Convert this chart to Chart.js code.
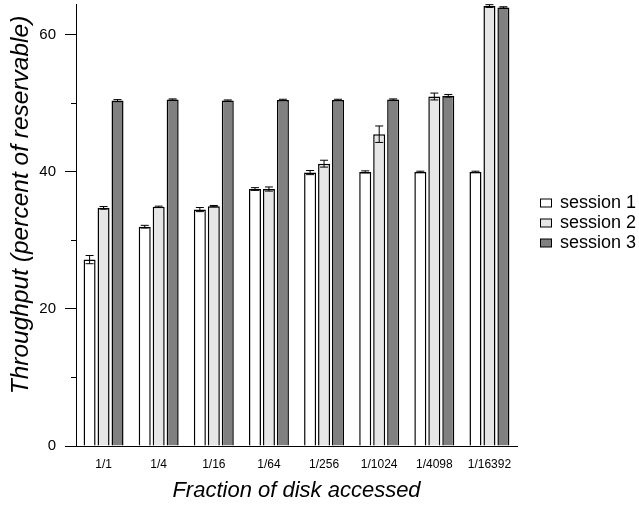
<!DOCTYPE html>
<html>
<head>
<meta charset="utf-8">
<script src="https://cdn.jsdelivr.net/npm/chart.js@4"></script>
<style>
  html, body { margin: 0; padding: 0; background: #fff; }
  #wrap { width: 639px; height: 506px; }
</style>
</head>
<body>
<div id="wrap"><canvas id="chart"></canvas></div>
<script>
const fractions = ["1/1", "1/4", "1/16", "1/64", "1/256", "1/1024", "1/4098", "1/16392"];
const session1 = [27.2, 32.0, 34.5, 37.5, 39.9, 40.0, 40.0, 40.0];
const session2 = [34.75, 34.9, 35.0, 37.5, 41.2, 45.5, 51.0, 64.2];
const session3 = [50.4, 50.55, 50.4, 50.5, 50.5, 50.55, 51.1, 64.0];
const session1Err = [0.6, 0.2, 0.3, 0.2, 0.3, 0.15, 0.1, 0.1];
const session2Err = [0.2, 0.1, 0.1, 0.3, 0.5, 1.2, 0.5, 0.2];
const session3Err = [0.15, 0.1, 0.1, 0.1, 0.1, 0.1, 0.2, 0.1];

const FONT = "'Liberation Sans', Arial, Helvetica, sans-serif";

// error bars drawn on top of each bar, through the y scale
const errorBars = {
  id: "errorBars",
  afterDatasetsDraw(chart) {
    const ctx = chart.ctx;
    const y = chart.scales.y;
    ctx.save();
    ctx.strokeStyle = "#000";
    ctx.lineWidth = 1;
    chart.data.datasets.forEach((ds, i) => {
      chart.getDatasetMeta(i).data.forEach((bar, j) => {
        const v = ds.data[j], e = ds.errors[j];
        const top = y.getPixelForValue(v + e);
        const bot = y.getPixelForValue(v - e);
        const half = 4;
        ctx.beginPath();
        ctx.moveTo(bar.x, top); ctx.lineTo(bar.x, bot);
        ctx.moveTo(bar.x - half, top); ctx.lineTo(bar.x + half, top);
        ctx.moveTo(bar.x - half, bot); ctx.lineTo(bar.x + half, bot);
        ctx.stroke();
      });
    });
    ctx.restore();
  },
};

// short minor ticks on the y axis + the y title (sits a bit above centre in the original)
const yAxisExtras = {
  id: "yAxisExtras",
  afterDraw(chart) {
    const ctx = chart.ctx;
    const y = chart.scales.y;
    const left = chart.chartArea.left;
    ctx.save();
    ctx.strokeStyle = "#000";
    ctx.lineWidth = 1;
    y.ticks.forEach((t) => {
      if (t.value % 20 === 0) return;
      const py = Math.round(y.getPixelForValue(t.value)) + 0.5;
      ctx.beginPath();
      ctx.moveTo(left - 5, py);
      ctx.lineTo(left, py);
      ctx.stroke();
    });
    ctx.translate(21, 205);
    ctx.rotate(-Math.PI / 2);
    ctx.font = "italic 24.5px " + FONT;
    ctx.fillStyle = "#000";
    ctx.textAlign = "center";
    ctx.textBaseline = "middle";
    ctx.fillText("Throughput (percent of reservable)", 0, 0);
    ctx.restore();
  },
};

// legend on the right
const sideLegend = {
  id: "sideLegend",
  afterDraw(chart) {
    const ctx = chart.ctx;
    ctx.save();
    ctx.font = "18px " + FONT;
    ctx.textBaseline = "middle";
    chart.data.datasets.forEach((ds, i) => {
      const cy = 203.5 + i * 20;
      ctx.fillStyle = ds.backgroundColor;
      ctx.fillRect(540.5, cy - 4.5, 11, 8);
      ctx.strokeStyle = "#000";
      ctx.lineWidth = 1;
      ctx.strokeRect(540.5, cy - 4.5, 11, 8);
      ctx.fillStyle = "#000";
      ctx.fillText(ds.label, 560, cy);
    });
    ctx.restore();
  },
};

const barStyle = {
  borderColor: "#000",
  borderWidth: 1.5,
  borderSkipped: "bottom",
  categoryPercentage: 0.76,
  barPercentage: 0.86,
};

new Chart(document.getElementById("chart"), {
  type: "bar",
  data: {
    labels: fractions,
    datasets: [
      { label: "session 1", data: session1, errors: session1Err, backgroundColor: "#ffffff", ...barStyle },
      { label: "session 2", data: session2, errors: session2Err, backgroundColor: "#e6e6e6", ...barStyle },
      { label: "session 3", data: session3, errors: session3Err, backgroundColor: "#808080", ...barStyle },
    ],
  },
  options: {
    animation: false,
    responsive: true,
    maintainAspectRatio: false,
    layout: { padding: { top: 4, right: 122, left: 0, bottom: 0 } },
    plugins: {
      legend: { display: false },
      tooltip: { enabled: false },
    },
    scales: {
      x: {
        grid: { display: false, drawTicks: false },
        border: { color: "#000", width: 1 },
        ticks: { color: "#000", font: { family: FONT, size: 12 }, padding: 11, maxRotation: 0 },
        title: {
          display: true,
          text: "Fraction of disk accessed",
          color: "#000",
          font: { family: FONT, size: 22, style: "italic" },
          padding: { top: 4, bottom: 2 },
        },
        afterFit: (s) => { s.height = 60; },
      },
      y: {
        min: 0,
        max: 64.5,
        grid: {
          drawOnChartArea: false,
          drawTicks: true,
          tickLength: 11,
          tickColor: (c) => (c.tick && c.tick.value % 20 === 0 ? "#000" : "rgba(0,0,0,0)"),
        },
        border: { color: "#000", width: 1 },
        ticks: {
          stepSize: 10,
          includeBounds: false,
          color: "#000",
          padding: 9,
          font: { family: FONT, size: 15 },
          callback: (v) => (v % 20 === 0 ? v : ""),
        },
        title: { display: false },
        afterFit: (s) => {
          s.width = 76;
          s.paddingTop = 0;
          s.paddingBottom = 0;
        },
      },
    },
  },
  plugins: [errorBars, yAxisExtras, sideLegend],
});
</script>
</body>
</html>
